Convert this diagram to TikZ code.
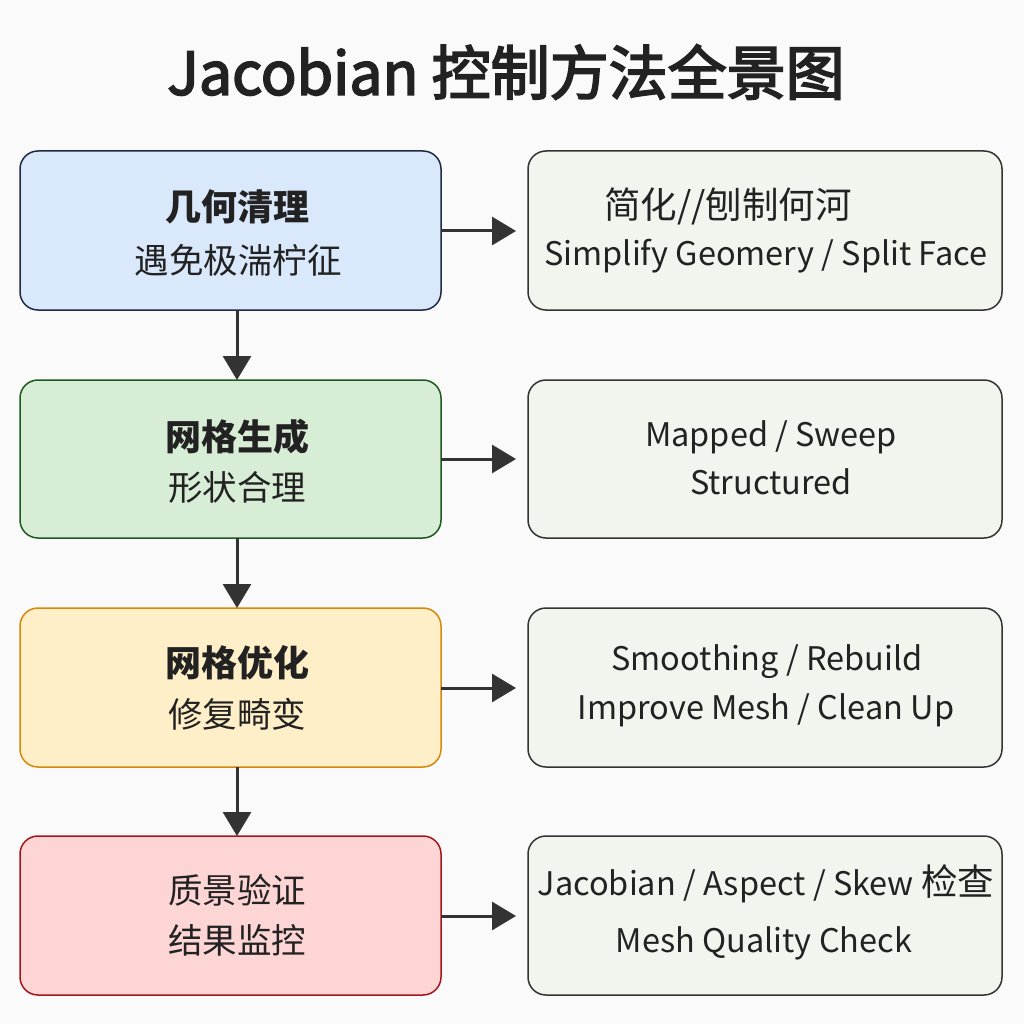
\documentclass[tikz,border=0pt]{standalone}
\usepackage{fontspec}
\setmainfont{Noto Sans CJK SC}
\newfontfamily\titlefont[FakeBold=3]{Noto Sans CJK SC}
\usetikzlibrary{arrows.meta}
\definecolor{bg}{HTML}{FAFAFA}
\definecolor{bfill}{HTML}{DAE8FC}\definecolor{bline}{HTML}{1F2A44}
\definecolor{gfill}{HTML}{D8EDD5}\definecolor{gline}{HTML}{1E5A1E}
\definecolor{ofill}{HTML}{FFEFC8}\definecolor{oline}{HTML}{D4890A}
\definecolor{rfill}{HTML}{FDD5D5}\definecolor{rline}{HTML}{A5151B}
\definecolor{sfill}{HTML}{F2F5EE}\definecolor{sline}{HTML}{333333}
\definecolor{txt}{HTML}{222222}
\definecolor{arr}{HTML}{333333}
\tikzset{
  box/.style={rounded corners=18pt, line width=1.5pt},
  lab/.style={text=txt, inner sep=0pt, anchor=center},
  bold/.style={lab, font=\fontsize{36}{40}\selectfont\bfseries},
  reg/.style={lab, font=\fontsize{34.5}{38}\selectfont},
  side/.style={lab, font=\fontsize{32.5}{36}\selectfont},
  conn/.style={draw=arr, line width=3pt, -{Triangle[length=24pt,width=28pt]}}
}
\newcommand{\cjkbig}{\fontsize{36.5}{40}\selectfont}
\begin{document}
\begin{tikzpicture}[x=1pt,y=-1pt]
\fill[bg] (0,0) rectangle (1024,1024);
\useasboundingbox (0,0) rectangle (1024,1024);
\node[lab, font=\titlefont\fontsize{59}{64}\selectfont] (title) at (506,72) {Jacobian 控制方法全景图};
% left boxes
\draw[box, fill=bfill, draw=bline] (20,151) rectangle (441,310);
\draw[box, fill=gfill, draw=gline] (20,380) rectangle (441,538);
\draw[box, fill=ofill, draw=oline] (20,608) rectangle (441,767);
\draw[box, fill=rfill, draw=rline] (20,836) rectangle (441,995);
\coordinate (L1b) at (237,310); \coordinate (L2t) at (237,380);
\coordinate (L2b) at (237,538); \coordinate (L3t) at (237,608);
\coordinate (L3b) at (237,767); \coordinate (L4t) at (237,836);
% right boxes
\draw[box, fill=sfill, draw=sline] (528,151) rectangle (1002,310);
\draw[box, fill=sfill, draw=sline] (528,380) rectangle (1002,538);
\draw[box, fill=sfill, draw=sline] (528,608) rectangle (1002,767);
\draw[box, fill=sfill, draw=sline] (528,836) rectangle (1002,995);
\coordinate (L1r) at (441,231); \coordinate (R1l) at (516,231);
\coordinate (L2r) at (441,459); \coordinate (R2l) at (516,459);
\coordinate (L3r) at (441,688); \coordinate (R3l) at (516,688);
\coordinate (L4r) at (441,916); \coordinate (R4l) at (516,916);
% texts left
\node[bold] (a1) at (237,207) {几何清理};
\node[reg]  (a2) at (238,260) {遇免极湍柠征};
\node[bold] (b1) at (237,437) {网格生成};
\node[reg]  (b2) at (237,487) {形状合理};
\node[bold] (c1) at (237,663) {网格优化};
\node[reg]  (c2) at (237,714) {修复畸变};
\node[reg]  (d1) at (237,890) {质景验证};
\node[reg]  (d2) at (237,940) {结果监控};
% texts right
\node[side, font=\cjkbig] (e1) at (728,206) {简化//刨制何河};
\node[side] (e2) at (766,256) {Simplify Geomery / Split Face};
\node[side] (f1) at (771,437) {Mapped / Sweep};
\node[side] (f2) at (771,482) {Structured};
\node[side] (g1) at (767,662) {Smoothing / Rebuild};
\node[side] (g2) at (766,710) {Improve Mesh / Clean Up};
\node[side] (h1) at (766,884) {Jacobian / Aspect / Skew {\cjkbig 检查}};
\node[side] (h2) at (764,943) {Mesh Quality Check};
% connectors
\draw[conn] (L1b) -- (L2t);
\draw[conn] (L2b) -- (L3t);
\draw[conn] (L3b) -- (L4t);
\draw[conn] (L1r) -- (R1l);
\draw[conn] (L2r) -- (R2l);
\draw[conn] (L3r) -- (R3l);
\draw[conn] (L4r) -- (R4l);
\end{tikzpicture}
\end{document}
